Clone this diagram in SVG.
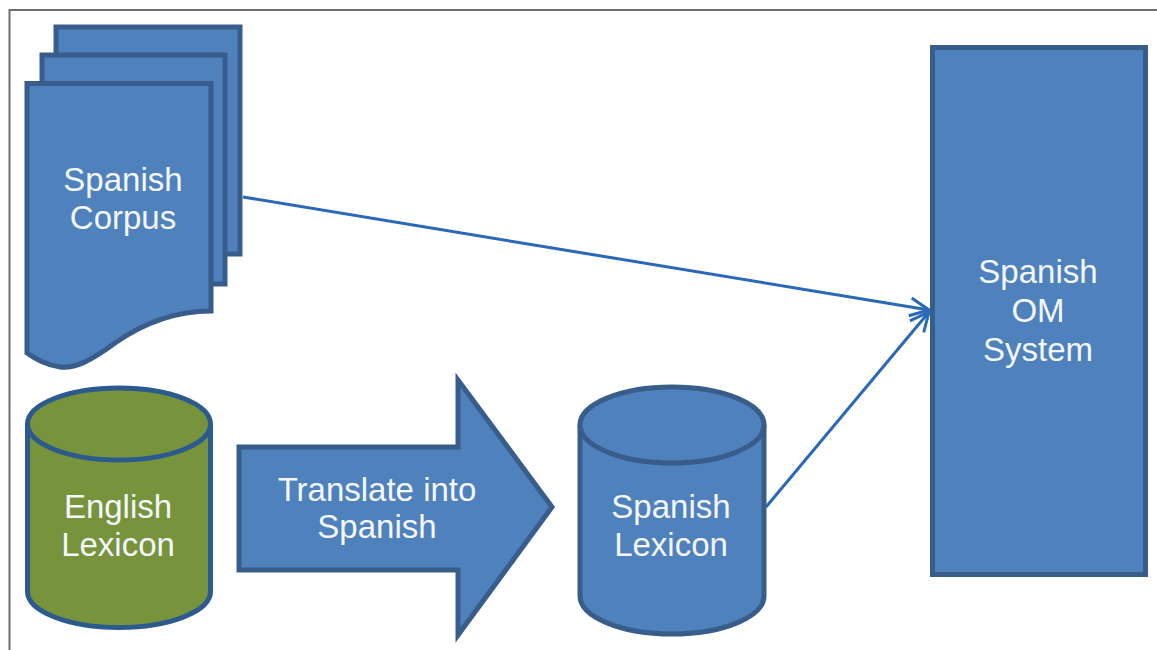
<svg xmlns="http://www.w3.org/2000/svg" width="1157" height="650" viewBox="0 0 1157 650">
  <defs>
    <style>
      .shape { fill: #4f81bd; stroke: #385d8a; stroke-width: 5; stroke-linejoin: miter; }
      .olive { fill: #77933c; stroke: #2c5a8f; stroke-width: 5; }
      .label { font-family: "Liberation Sans", Arial, sans-serif; font-size: 33px; fill: #f4f7fb; text-anchor: middle; }
      .link { fill: none; stroke: #2a68b8; stroke-width: 3; }
    </style>
    <marker id="openArrow" viewBox="0 0 24 24" refX="21" refY="12" markerWidth="24" markerHeight="24" markerUnits="userSpaceOnUse" orient="auto">
      <path d="M2,3 L21,12 L2,21" fill="none" stroke="#2a68b8" stroke-width="3"/>
    </marker>
  </defs>

  <rect width="1157" height="650" fill="#ffffff"/>

  <!-- frame -->
  <path d="M9.5,650 V10 H1157" fill="none" stroke="#6e6e6e" stroke-width="2"/>

  <!-- connectors -->
  <g id="connectors">
    <line class="link" x1="243" y1="197" x2="929" y2="310" marker-end="url(#openArrow)"/>
    <line class="link" x1="766" y1="507" x2="929" y2="312" marker-end="url(#openArrow)"/>
  </g>

  <!-- stacked documents -->
  <g id="spanish-corpus">
    <rect class="shape" x="56" y="27" width="184" height="227"/>
    <rect class="shape" x="42" y="55" width="183" height="229"/>
    <path class="shape" d="M27,83.5 H211 V311 C175,311 145,322 115,343 C92,360 75,369 60,367 C45,365 35,358 27,353 Z"/>
    <text class="label" x="123" y="191">Spanish</text>
    <text class="label" x="123" y="229">Corpus</text>
  </g>

  <!-- English lexicon cylinder -->
  <g id="english-lexicon">
    <path class="olive" d="M27.5,424 V591.5 A91.5,36 0 0 0 210.5,591.5 V424"/>
    <ellipse class="olive" cx="119" cy="424" rx="91.5" ry="36"/>
    <text class="label" x="118" y="518">English</text>
    <text class="label" x="118" y="556">Lexicon</text>
  </g>

  <!-- translation block arrow -->
  <g id="translate">
    <path class="shape" d="M239,447 H458 V380 L552,507 L458,635 V570 H239 Z"/>
    <text class="label" x="377" y="501">Translate into</text>
    <text class="label" x="377" y="538">Spanish</text>
  </g>

  <!-- Spanish lexicon cylinder -->
  <g id="spanish-lexicon">
    <path class="shape" d="M580,425 V596 A92,38 0 0 0 764,596 V425"/>
    <ellipse class="shape" cx="672" cy="425" rx="92" ry="38"/>
    <text class="label" x="671" y="518">Spanish</text>
    <text class="label" x="671" y="556">Lexicon</text>
  </g>

  <!-- OM system -->
  <g id="spanish-om-system">
    <rect class="shape" x="932.5" y="47.5" width="213" height="527"/>
    <text class="label" x="1038" y="283">Spanish</text>
    <text class="label" x="1038" y="322">OM</text>
    <text class="label" x="1038" y="361">System</text>
  </g>
</svg>
